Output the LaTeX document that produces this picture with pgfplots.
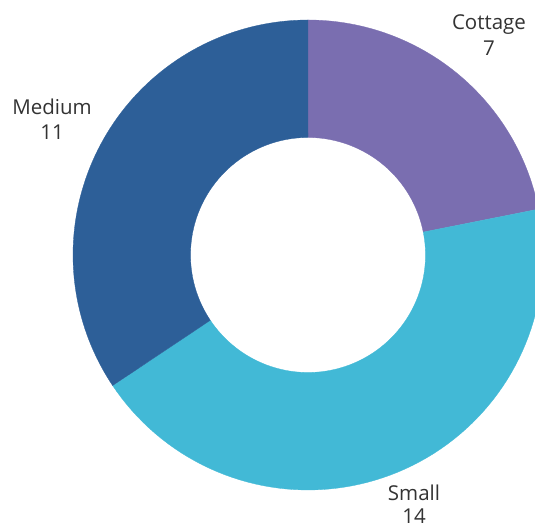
\documentclass[border=0pt]{standalone}
\usepackage{pgfplots}
\pgfplotsset{compat=1.18}
\usepackage{fontspec}
\setmainfont{Open Sans}
\definecolor{cottage}{HTML}{7A6EB0}
\definecolor{small}{HTML}{42B9D6}
\definecolor{medium}{HTML}{2D5F98}
\definecolor{txt}{HTML}{333333}
% values: Cottage 7, Small 14, Medium 11 (total 32)
\pgfmathsetmacro{\tot}{7+14+11}
\pgfmathsetmacro{\aA}{90}
\pgfmathsetmacro{\aB}{\aA-7/\tot*360}
\pgfmathsetmacro{\aC}{\aB-14/\tot*360}
\pgfmathsetmacro{\aD}{\aC-11/\tot*360}
\newcommand{\slice}[3]{%
  \addplot[fill=#3, draw=#3, line width=0.3pt, samples at={0,0.0125,...,1.0,1.01,1.0225,...,2.02}]
   ({308+ifthenelse(x<=1.001,235,117.5)*cos(ifthenelse(x<=1.001,#1+(#2-#1)*x,#2-(#2-#1)*min(max(x-1.01,0),1)))},
    {274+ifthenelse(x<=1.001,235,117.5)*sin(ifthenelse(x<=1.001,#1+(#2-#1)*x,#2-(#2-#1)*min(max(x-1.01,0),1)))}) -- cycle;}
\begin{document}
\begin{tikzpicture}
\useasboundingbox (0,0) rectangle (535pt,529pt);
\begin{axis}[
  at={(0,0)}, anchor=south west,
  width=535pt, height=529pt, scale only axis, hide axis,
  xmin=0, xmax=535, ymin=0, ymax=529, clip=true,
]
\slice{\aA}{\aB}{cottage}
\slice{\aB}{\aC}{small}
\slice{\aC}{\aD}{medium}
\node[txt, font=\fontsize{20.5}{25.5}\selectfont, align=center] at (axis cs:489,494) {Cottage\\7};
\node[txt, font=\fontsize{20.5}{25.5}\selectfont, align=center] at (axis cs:52,410) {Medium\\11};
\node[txt, font=\fontsize{20.5}{23}\selectfont, align=center] at (axis cs:414,25) {Small\\14};
\end{axis}
\end{tikzpicture}
\end{document}
